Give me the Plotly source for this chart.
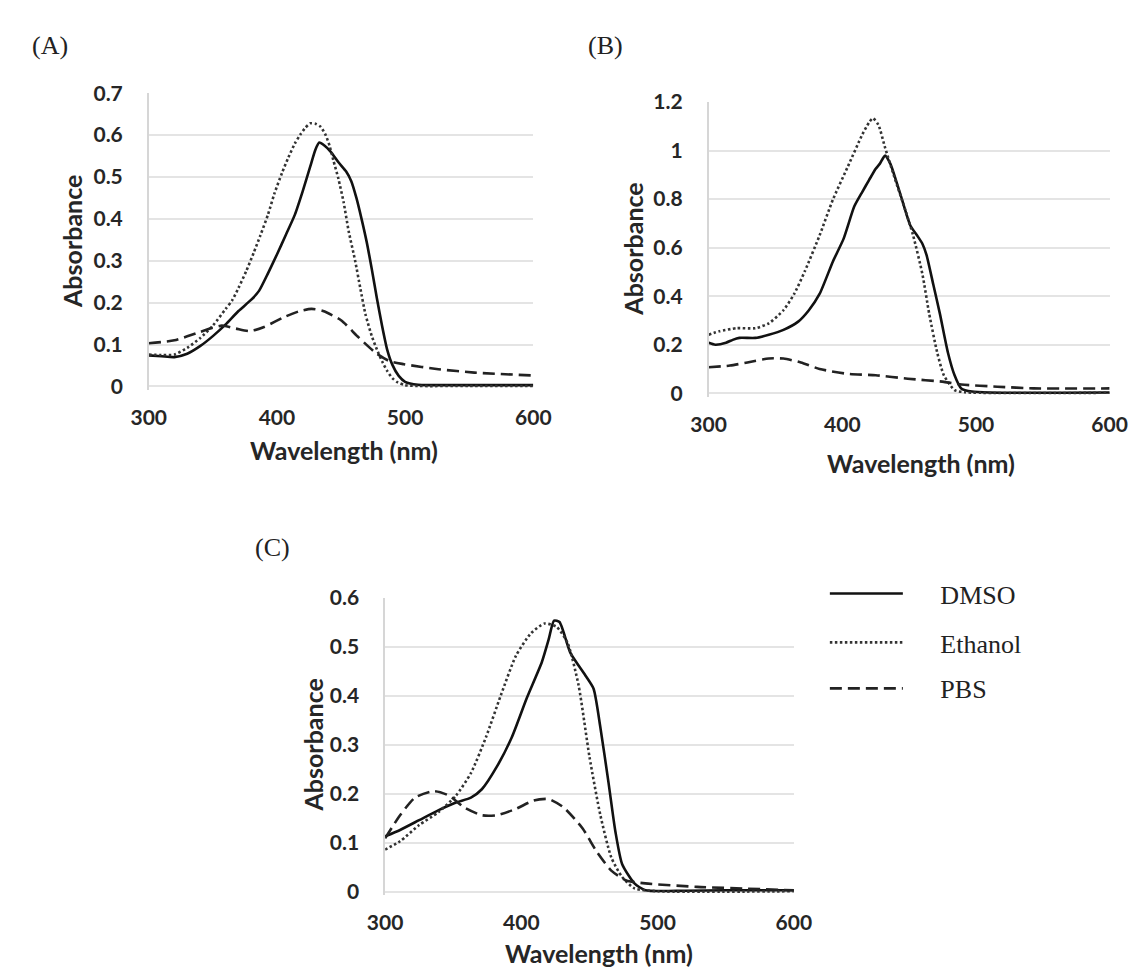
import plotly.graph_objects as go

# ---- Panel (A) ----
wl_dmso_a = [300, 310, 320, 330, 340, 350, 360, 370, 380, 386, 393, 400, 407, 414, 420, 426, 430, 433,
             437, 442, 448, 454, 458, 462, 466, 470, 474, 478, 482, 486, 490, 495, 500, 510, 520, 550, 600]
abs_dmso_a = [0.074, 0.072, 0.070, 0.078, 0.096, 0.120, 0.148, 0.180, 0.207, 0.228, 0.270, 0.315, 0.362,
              0.410, 0.465, 0.525, 0.565, 0.582, 0.575, 0.560, 0.535, 0.513, 0.490, 0.450, 0.400, 0.345,
              0.280, 0.210, 0.145, 0.088, 0.052, 0.025, 0.011, 0.004, 0.003, 0.003, 0.003]
wl_eth_a = [300, 310, 320, 330, 340, 350, 360, 365, 370, 376, 382, 387, 393, 398, 404, 409, 414, 418, 422,
            426, 430, 434, 438, 441, 444, 448, 452, 456, 461, 465, 469, 474, 478, 482, 486, 490, 494, 500,
            510, 550, 600]
abs_eth_a = [0.076, 0.075, 0.076, 0.092, 0.115, 0.145, 0.185, 0.205, 0.235, 0.275, 0.320, 0.360, 0.410,
             0.460, 0.510, 0.547, 0.580, 0.600, 0.617, 0.628, 0.627, 0.620, 0.600, 0.575, 0.540, 0.495,
             0.440, 0.370, 0.300, 0.235, 0.173, 0.120, 0.088, 0.060, 0.037, 0.020, 0.010, 0.003, 0.001,
             0.001, 0.001]
wl_pbs_a = [300, 320, 340, 357, 368, 379, 390, 406, 418, 427, 436, 450, 463, 477, 488, 499, 526, 554, 600]
abs_pbs_a = [0.103, 0.110, 0.130, 0.145, 0.138, 0.132, 0.142, 0.166, 0.180, 0.185, 0.180, 0.158, 0.119,
             0.080, 0.060, 0.053, 0.041, 0.033, 0.026]

# ---- Panel (B) ----
wl_dmso_b = [300, 305, 313, 318, 323, 335, 345, 356, 367, 375, 383, 393, 401, 409, 415, 420, 425, 428, 432,
             436, 440, 444, 451, 456, 460, 463, 468, 473, 479, 484, 489, 497, 510, 600]
abs_dmso_b = [0.208, 0.200, 0.208, 0.220, 0.228, 0.228, 0.241, 0.261, 0.295, 0.342, 0.409, 0.543, 0.637,
              0.770, 0.830, 0.878, 0.925, 0.945, 0.979, 0.945, 0.880, 0.810, 0.690, 0.650, 0.615, 0.570,
              0.450, 0.328, 0.168, 0.074, 0.020, 0.007, 0.003, 0.003]
wl_eth_b = [300, 308, 321, 335, 345, 356, 364, 372, 383, 393, 404, 415, 420, 423, 427, 432, 439, 447, 453,
            460, 465, 471, 476, 484, 492, 600]
abs_eth_b = [0.241, 0.255, 0.268, 0.268, 0.288, 0.342, 0.409, 0.503, 0.650, 0.798, 0.932, 1.066, 1.115,
             1.133, 1.106, 1.012, 0.890, 0.757, 0.650, 0.489, 0.328, 0.168, 0.074, 0.013, 0.004, 0.002]
wl_pbs_b = [300, 316, 329, 345, 356, 369, 383, 404, 425, 449, 476, 489, 516, 543, 600]
abs_pbs_b = [0.107, 0.114, 0.127, 0.143, 0.143, 0.127, 0.100, 0.080, 0.074, 0.060, 0.047, 0.036, 0.027,
             0.020, 0.020]

# ---- Panel (C) ----
wl_dmso_c = [300, 311, 325, 339, 352, 363, 371, 382, 393, 404, 415, 420, 424, 428, 436, 447, 453, 458, 464,
             469, 474, 483, 491, 520, 550, 600]
abs_dmso_c = [0.113, 0.126, 0.146, 0.166, 0.182, 0.192, 0.209, 0.255, 0.315, 0.395, 0.468, 0.514, 0.553,
              0.550, 0.487, 0.441, 0.414, 0.335, 0.222, 0.123, 0.056, 0.017, 0.003, 0.002, 0.003, 0.003]
wl_eth_c = [300, 311, 325, 339, 352, 363, 374, 385, 396, 407, 417, 426, 434, 442, 450, 458, 466, 474, 483,
            500, 600]
abs_eth_c = [0.086, 0.103, 0.136, 0.162, 0.196, 0.242, 0.315, 0.401, 0.481, 0.527, 0.547, 0.540, 0.507,
             0.421, 0.275, 0.156, 0.070, 0.030, 0.007, 0.001, 0.001]
wl_pbs_c = [300, 311, 322, 336, 347, 358, 371, 382, 396, 409, 420, 431, 445, 455, 466, 477, 491, 529, 600]
abs_pbs_c = [0.109, 0.156, 0.192, 0.205, 0.196, 0.172, 0.156, 0.156, 0.169, 0.186, 0.189, 0.172, 0.129,
             0.083, 0.043, 0.023, 0.017, 0.010, 0.003]

solvents = ["DMSO", "Ethanol", "PBS"]
panel_labels = ["(A)", "(B)", "(C)"]
x_title = "Wavelength (nm)"
y_title = "Absorbance"

W, H = 1147, 975
styles = {
    "DMSO": dict(color="#111111", width=2.6, dash="solid"),
    "Ethanol": dict(color="#333333", width=2.6, dash="2.5px,2.5px"),
    "PBS": dict(color="#222222", width=2.6, dash="12px,6px"),
}

# plot-area boxes in pixels: left, right, top, bottom, y max, y step
boxes = {
    "A": (135, 532, 81, 381, 0.7, 0.1),
    "B": (713, 1127, 90, 388, 1.2, 0.2),
    "C": (379, 801, 597, 898, 0.6, 0.1),
}

panels = {
    "A": [(wl_dmso_a, abs_dmso_a), (wl_eth_a, abs_eth_a), (wl_pbs_a, abs_pbs_a)],
    "B": [(wl_dmso_b, abs_dmso_b), (wl_eth_b, abs_eth_b), (wl_pbs_b, abs_pbs_b)],
    "C": [(wl_dmso_c, abs_dmso_c), (wl_eth_c, abs_eth_c), (wl_pbs_c, abs_pbs_c)],
}

tick_font = dict(family="Lato", size=21, color="#262626", weight="bold")
title_font = dict(family="Lato", size=25, color="#262626", weight="bold")
serif_font = dict(family="Liberation Serif", size=26, color="#222222")

fig = go.Figure()
layout = dict(width=W, height=H, margin=dict(l=0, r=0, t=0, b=0),
              paper_bgcolor="white", plot_bgcolor="white", showlegend=True)

legend_names = ["legend", "legend2", "legend3"]
legend_y = [593, 643, 690]
NBSP = "\u00a0"

for i, key in enumerate(["A", "B", "C"]):
    l, r, t, b, ymax, dy = boxes[key]
    pad = ymax * 0.012
    bottom_px = b + (b - t) * pad / ymax
    xa = "xaxis" if i == 0 else f"xaxis{i + 1}"
    ya = "yaxis" if i == 0 else f"yaxis{i + 1}"
    xref = "x" if i == 0 else f"x{i + 1}"
    yref = "y" if i == 0 else f"y{i + 1}"
    layout[xa] = dict(domain=[l / W, r / W], range=[300, 600], dtick=100, tick0=300,
                      showgrid=False, zeroline=False, showline=False, ticks="",
                      tickfont=tick_font, ticklabelstandoff=13, anchor=yref, fixedrange=True)
    layout[ya] = dict(domain=[1 - bottom_px / H, 1 - t / H], range=[-pad, ymax], dtick=dy, tick0=0,
                      showgrid=True, gridcolor="#e4e4e4", gridwidth=1.5, zeroline=False,
                      showline=True, linecolor="#d6d6d6", linewidth=1.5, ticks="",
                      tickfont=tick_font, ticklabelstandoff=20, anchor=xref, fixedrange=True)
    for j, name in enumerate(solvents):
        wl, ab = panels[key][j]
        st = styles[name]
        fig.add_trace(go.Scatter(
            x=wl, y=ab, mode="lines", name=NBSP * 5 + name, xaxis=xref, yaxis=yref,
            line=dict(color=st["color"], width=st["width"], dash=st["dash"],
                      shape="spline", smoothing=0.6),
            showlegend=(key == "A"), legend=legend_names[j], hoverinfo="skip"))

for j, lg in enumerate(legend_names):
    layout[lg] = dict(x=833 / W, y=1 - legend_y[j] / H, xanchor="left", yanchor="middle",
                      bgcolor="rgba(0,0,0,0)", itemwidth=73, font=serif_font)

annotations = []
# panel letters
for txt, (px, py) in zip(panel_labels, [(33, 32), (607, 32), (263, 546)]):
    annotations.append(dict(text=txt, x=px / W, y=1 - py / H, xref="paper", yref="paper",
                            showarrow=False, xanchor="center", yanchor="middle", font=serif_font))
# axis titles
for (px, py) in [(337, 446), (932, 459), (600, 961)]:
    annotations.append(dict(text=x_title, x=px / W, y=1 - py / H, xref="paper", yref="paper",
                            showarrow=False, xanchor="center", yanchor="middle", font=title_font))
for (px, py) in [(56, 233), (634, 241), (305, 748)]:
    annotations.append(dict(text=y_title, x=px / W, y=1 - py / H, xref="paper", yref="paper",
                            showarrow=False, xanchor="center", yanchor="middle", textangle=-90,
                            font=title_font))
layout["annotations"] = annotations

fig.update_layout(**layout)
fig.write_html("out.html", config={"displayModeBar": False})
